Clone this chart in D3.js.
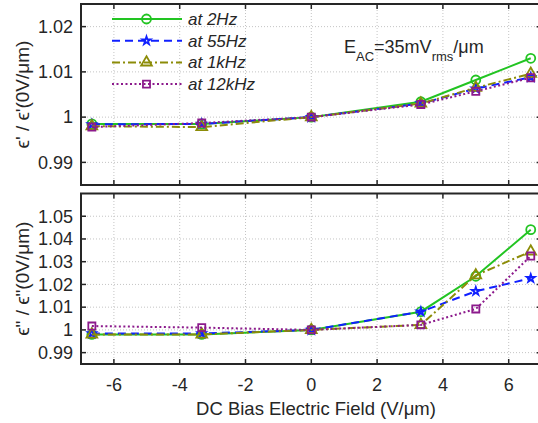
<script src="https://d3js.org/d3.v7.min.js"></script>
<style>
body { margin: 0; background: #fff; }
text { font-family: "Liberation Sans", Arial, sans-serif; fill: #262626; }
</style>
<body></body>
<script>
// Data
const fields = [-6.67, -3.33, 0, 3.33, 5, 6.67];
const seriesNames = ["at 2Hz", "at 55Hz", "at 1kHz", "at 12kHz"];
// real part  e'/e'(0)
const real2Hz   = [0.9985, 0.9985, 1.0, 1.0034, 1.0082, 1.0130];
const real55Hz  = [0.9984, 0.9985, 1.0, 1.0030, 1.0063, 1.0088];
const real1kHz  = [0.9980, 0.9978, 1.0, 1.0030, 1.0065, 1.0096];
const real12kHz = [0.9978, 0.9987, 1.0, 1.0028, 1.0057, 1.0087];
// imaginary part  e''/e''(0)
const imag2Hz   = [0.9980, 0.9980, 1.0, 1.0080, 1.0236, 1.0441];
const imag55Hz  = [0.9984, 0.9984, 1.0, 1.0080, 1.0170, 1.0227];
const imag1kHz  = [0.9980, 0.9980, 1.0, 1.0022, 1.0240, 1.0345];
const imag12kHz = [1.0017, 1.0010, 1.0, 1.0022, 1.0092, 1.0325];
const xTicks = [-6, -4, -2, 0, 2, 4, 6];
const topTicks = [0.99, 1, 1.01, 1.02];
const botTicks = [0.99, 1, 1.01, 1.02, 1.03, 1.04, 1.05];

const colors  = ["#22c422", "#1020ff", "#8c8c08", "#8c1a8c"];
const dashes  = [null, "8,5", "8,3,2,3", "2,2.5"];
const symbols = ["circle", d3.symbolStar, d3.symbolTriangle, d3.symbolSquare];

const W = 538, H = 423;
const svg = d3.select("body").append("svg").attr("width", W).attr("height", H);

const x = d3.scaleLinear().domain([-7, 7]).range([81, 541.6]);
const yTop = d3.scaleLinear().domain([0.985, 1.025]).range([185, 4]);
const yBot = d3.scaleLinear().domain([0.985, 1.06]).range([364, 193.5]);

function fmt(v) { return v === 1 ? "1" : d3.format(".2f")(v); }

function panel(y, ticks, data, label, showX) {
  const g = svg.append("g");
  const [y0, y1] = y.range();
  // grid
  g.selectAll(".gx").data(xTicks).join("line")
    .attr("x1", d => x(d)).attr("x2", d => x(d)).attr("y1", y0).attr("y2", y1)
    .attr("stroke", "#c4c4c4").attr("stroke-dasharray", "1,2");
  g.selectAll(".gy").data(ticks).join("line")
    .attr("x1", x.range()[0]).attr("x2", x.range()[1]).attr("y1", d => y(d)).attr("y2", d => y(d))
    .attr("stroke", "#c4c4c4").attr("stroke-dasharray", "1,2");

  // series
  data.forEach((vals, i) => {
    const pts = fields.map((f, j) => ({x: f, y: vals[j]}));
    g.append("path").datum(pts)
      .attr("fill", "none").attr("stroke", colors[i]).attr("stroke-width", 2)
      .attr("stroke-dasharray", dashes[i])
      .attr("d", d3.line().x(d => x(d.x)).y(d => y(d.y)));
    pts.forEach(p => marker(g, i, x(p.x), y(p.y)));
  });

  // frame
  g.append("rect").attr("x", x.range()[0]).attr("y", y1)
    .attr("width", x.range()[1] - x.range()[0]).attr("height", y0 - y1)
    .attr("fill", "none").attr("stroke", "#262626").attr("stroke-width", 2);

  // ticks inward
  const tl = 5;
  xTicks.forEach(t => {
    g.append("line").attr("x1", x(t)).attr("x2", x(t)).attr("y1", y0).attr("y2", y0 - tl).attr("stroke", "#262626").attr("stroke-width", 1.5);
    g.append("line").attr("x1", x(t)).attr("x2", x(t)).attr("y1", y1).attr("y2", y1 + tl).attr("stroke", "#262626").attr("stroke-width", 1.5);
  });
  ticks.forEach(t => {
    g.append("line").attr("x1", x.range()[0]).attr("x2", x.range()[0] + tl).attr("y1", y(t)).attr("y2", y(t)).attr("stroke", "#262626").attr("stroke-width", 1.5);
    g.append("line").attr("x1", x.range()[1]).attr("x2", x.range()[1] - tl).attr("y1", y(t)).attr("y2", y(t)).attr("stroke", "#262626").attr("stroke-width", 1.5);
    g.append("text").attr("x", 73).attr("y", y(t)).attr("dy", "0.35em")
      .attr("text-anchor", "end").attr("font-size", 18).text(fmt(t));
  });
  if (showX) {
    xTicks.forEach(t => {
      g.append("text").attr("x", x(t)).attr("y", 391).attr("text-anchor", "middle")
        .attr("font-size", 18).text(t < 0 ? "-" + Math.abs(t) : t);
    });
  }
  g.append("text").attr("transform", `translate(29,${(y0 + y1) / 2}) rotate(-90)`)
    .attr("text-anchor", "middle").attr("font-size", 19).text(label);
}

function marker(g, i, cx, cy) {
  if (symbols[i] === "circle") {
    g.append("circle").attr("cx", cx).attr("cy", cy).attr("r", 4.5)
      .attr("fill", "none").attr("stroke", colors[i]).attr("stroke-width", 1.8);
  } else {
    g.append("path").attr("transform", `translate(${cx},${cy})`)
      .attr("d", d3.symbol().type(symbols[i]).size(i === 1 ? 20 : 50)())
      .attr("fill", "none").attr("stroke", colors[i]).attr("stroke-width", 1.8);
  }
}

panel(yTop, topTicks, [real2Hz, real55Hz, real1kHz, real12kHz], "\u03f5' / \u03f5'(0V/\u03bcm)", false);
panel(yBot, botTicks, [imag2Hz, imag55Hz, imag1kHz, imag12kHz], "\u03f5\" / \u03f5\"(0V/\u03bcm)", true);

// x label
svg.append("text").attr("x", 316).attr("y", 415).attr("text-anchor", "middle")
  .attr("font-size", 18.5).text("DC Bias Electric Field (V/\u03bcm)");

// legend
const leg = svg.append("g");
seriesNames.forEach((n, i) => {
  const ly = 19 + i * 21.7;
  leg.append("line").attr("x1", 112).attr("x2", 182).attr("y1", ly).attr("y2", ly)
    .attr("stroke", colors[i]).attr("stroke-width", 2).attr("stroke-dasharray", dashes[i]);
  marker(leg, i, 146.5, ly);
  leg.append("text").attr("x", 188).attr("y", ly).attr("dy", "0.35em")
    .attr("font-size", 17).attr("font-style", "italic").text(n);
});

// annotation
const ann = svg.append("text").attr("x", 344).attr("y", 53).attr("font-size", 18);
ann.append("tspan").text("E");
ann.append("tspan").attr("font-size", 13).attr("dy", 8).text("AC");
ann.append("tspan").attr("dy", -8).text("=35mV");
ann.append("tspan").attr("font-size", 13).attr("dy", 8).text("rms");
ann.append("tspan").attr("dy", -8).text("/\u03bcm");
</script>
